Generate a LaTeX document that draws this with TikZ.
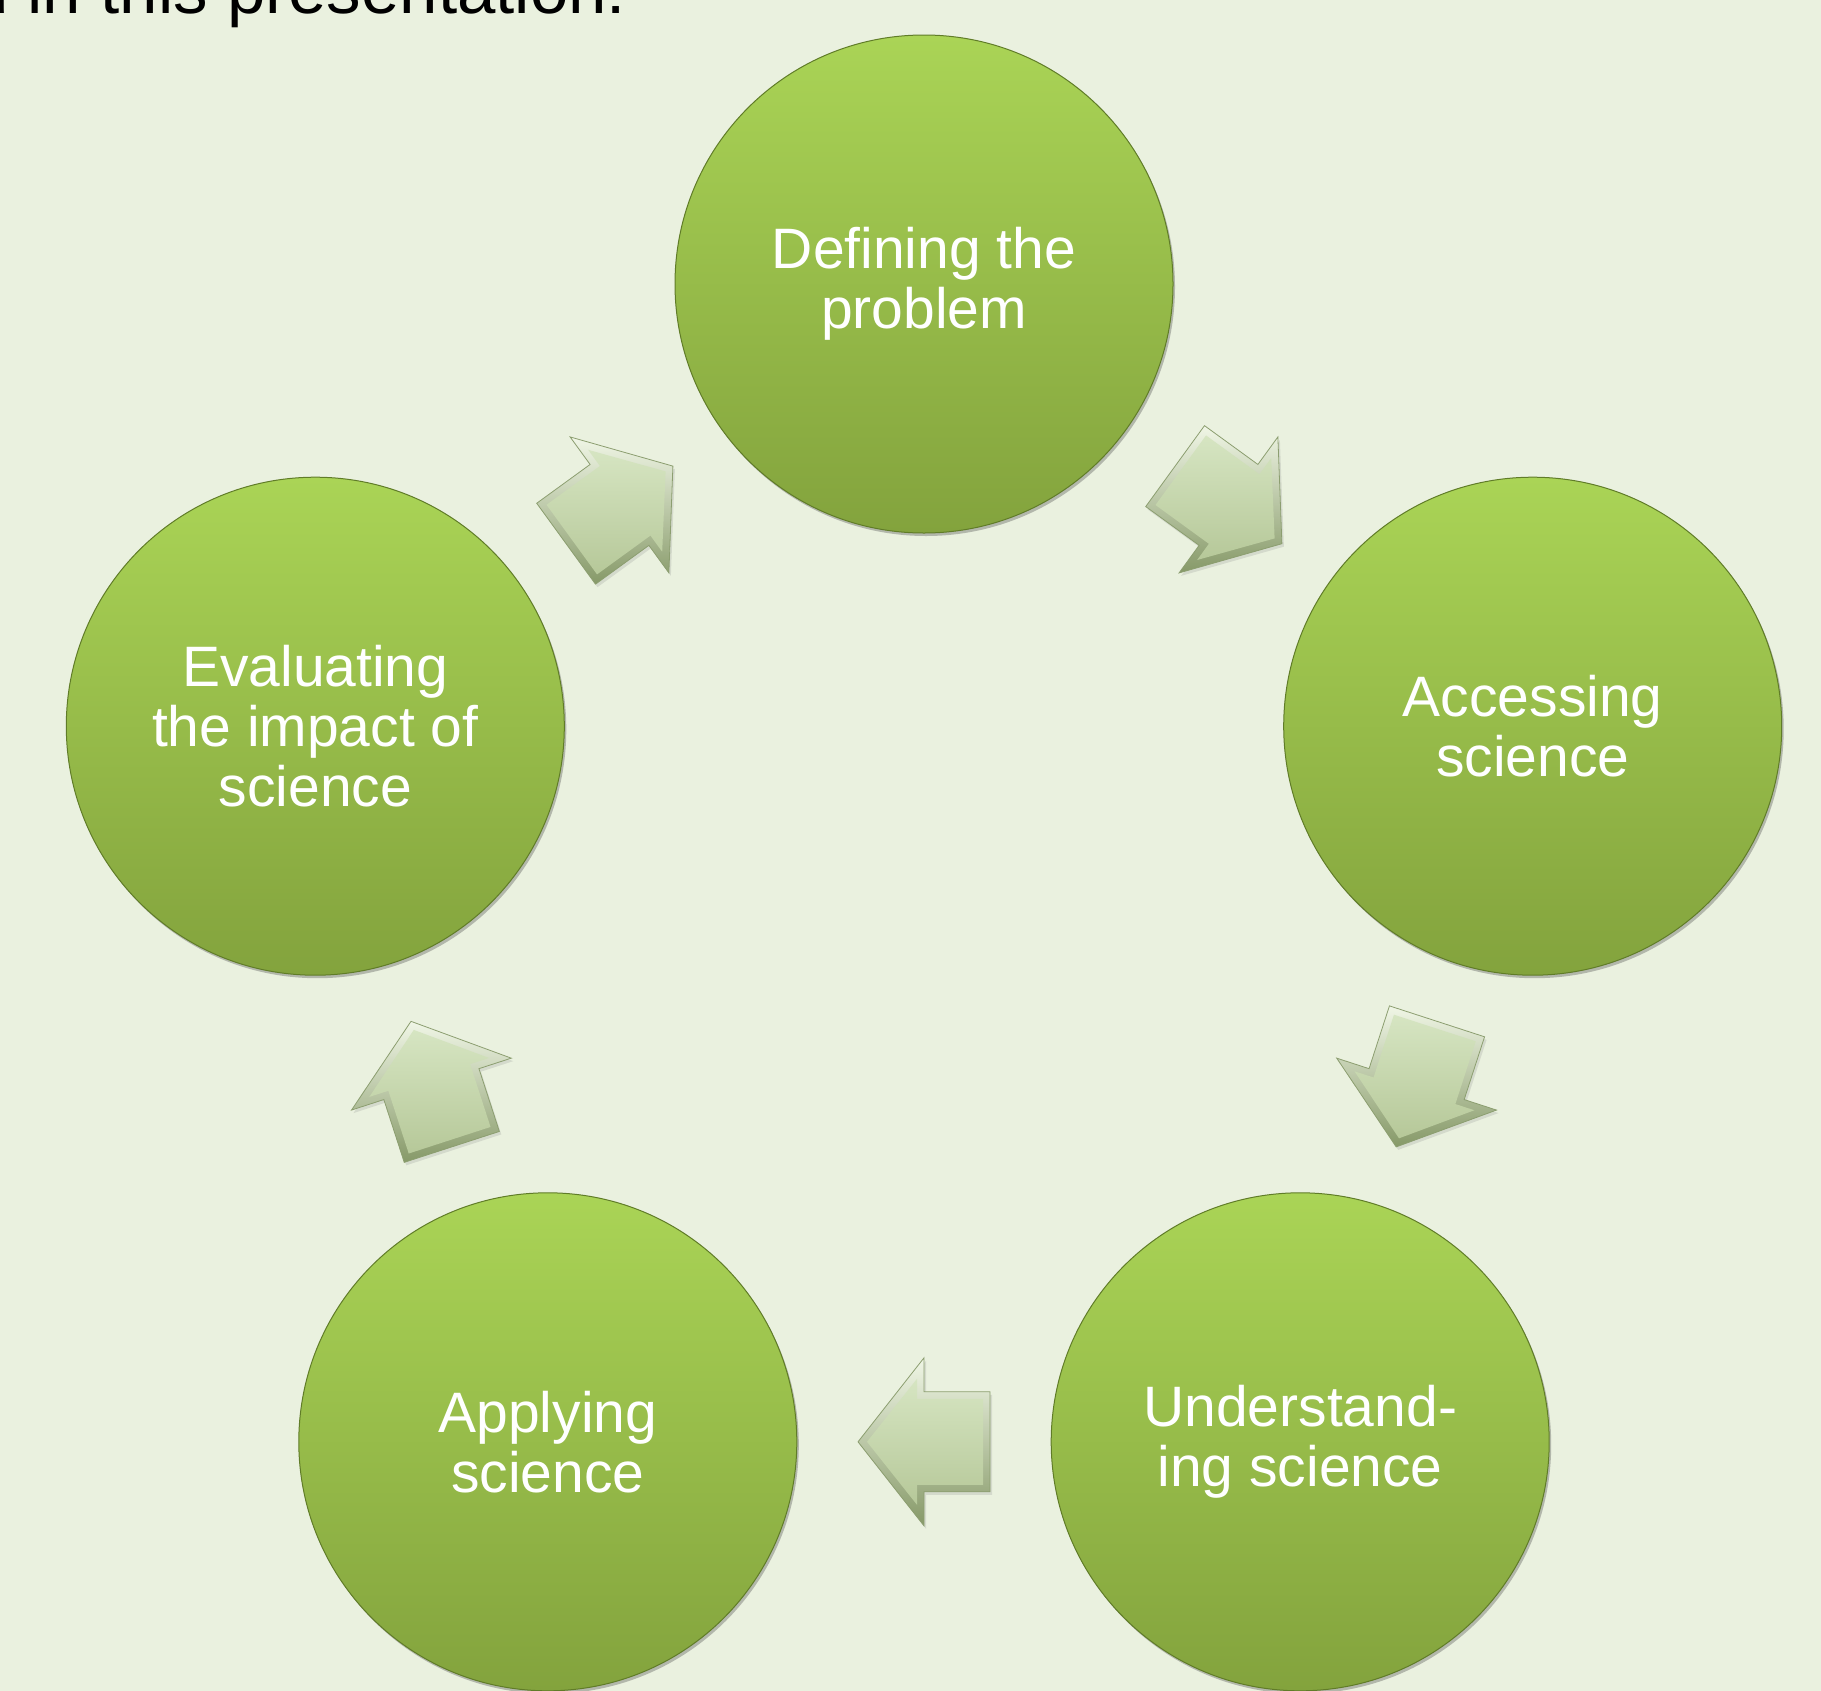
\documentclass[tikz,border=0pt]{standalone}
\usepackage{fontspec}
\setmainfont{Liberation Sans}
\usepackage{tikz}
\usetikzlibrary{shapes,shadows}

\definecolor{bgcolor}{RGB}{234,241,223}
\definecolor{stagetop}{RGB}{170,212,86}
\definecolor{stagebottom}{RGB}{131,163,61}
\definecolor{stageedge}{RGB}{96,124,40}
\definecolor{facetop}{RGB}{214,229,194}
\definecolor{facebottom}{RGB}{182,200,153}
\definecolor{beveltop}{RGB}{240,246,230}
\definecolor{bevelbottom}{RGB}{134,153,104}
\definecolor{arrowedge}{RGB}{140,158,112}

% block arrow, centre #1, direction #2
\newcommand{\stagearrow}[2]{%
  \path[arrowbevel,shift={#1},rotate=#2] (-66bp,50bp) -- (0bp,50bp) -- (0bp,84bp) -- (66bp,0bp) -- (0bp,-84bp) -- (0bp,-50bp) -- (-66bp,-50bp) -- cycle;
  \path[arrowface,shift={#1},rotate=#2] (-59bp,43bp) -- (7bp,43bp) -- (7bp,63bp) -- (57bp,0bp) -- (7bp,-63bp) -- (7bp,-43bp) -- (-59bp,-43bp) -- cycle;}

\begin{document}
\begin{tikzpicture}[
  stage/.style={circle,minimum size=498bp,inner sep=0pt,draw=stageedge,line width=1bp,
    top color=stagetop,bottom color=stagebottom,text=white,align=center,
    font=\fontsize{57bp}{60bp}\selectfont,
    drop shadow={shadow xshift=2bp,shadow yshift=-3bp,opacity=0.35,fill=black!70}},
  arrowbevel/.style={draw=arrowedge,line width=0.8bp,top color=beveltop,bottom color=bevelbottom,
    drop shadow={shadow xshift=2bp,shadow yshift=-3bp,opacity=0.2}},
  arrowface/.style={top color=facetop,bottom color=facebottom}]
\useasboundingbox (0bp,0bp) rectangle (1821bp,-1691bp);
\clip (0bp,0bp) rectangle (1821bp,-1691bp);
\fill[bgcolor] (0bp,0bp) rectangle (1821bp,-1691bp);

\node (intro) at (-30bp,-13.5bp)[anchor=base west,inner sep=0pt,font=\fontsize{69bp}{80bp}\selectfont] {d in this presentation:};

\stagearrow{(1228.5bp,-504.9bp)}{-36}
\stagearrow{(1416.6bp,-1084.1bp)}{-108}
\stagearrow{(924bp,-1441.8bp)}{180}
\stagearrow{(431.4bp,-1084.1bp)}{108}
\stagearrow{(619.5bp,-504.9bp)}{36}

\node (def) at (924bp,-284bp)[stage] {Defining the\\problem};
\node (acc) at (1532.7bp,-726.2bp)[stage] {Accessing\\science};
\node (und) at (1300.2bp,-1441.8bp)[stage] {Understand-\\ing science};
\node (app) at (547.8bp,-1441.8bp)[stage] {Applying\\science};
\node (eva) at (315.3bp,-726.2bp)[stage] {Evaluating\\the impact of\\science};
\end{tikzpicture}
\end{document}
